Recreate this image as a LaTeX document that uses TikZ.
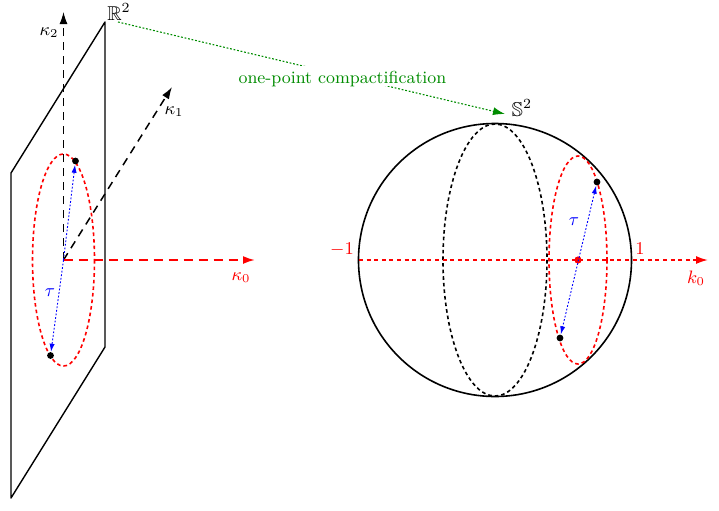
\documentclass[tikz,border=0pt]{standalone}
\usepackage{amssymb}
\usetikzlibrary{arrows.meta}
\definecolor{dgreen}{RGB}{0,140,0}
\tikzset{
  solidline/.style={black,line width=0.7pt},
  axisdash/.style={dash pattern=on 4pt off 3pt,-{Latex[length=6pt,width=4pt]}},
  fine/.style={dash pattern=on 0.9pt off 0.9pt,line width=0.45pt},
  reddash/.style={red,line width=0.8pt,dash pattern=on 1.8pt off 1.5pt},
  blackdash/.style={black,line width=0.8pt,dash pattern=on 1.8pt off 1.5pt},
  dotnode/.style={circle,fill=black,inner sep=0pt,minimum size=3.4pt},
  lab/.style={inner sep=0pt,font=\small}
}
\begin{document}
\begin{tikzpicture}[x=0.5pt,y=-0.5pt]
\useasboundingbox (0,0) rectangle (719,510);
\coordinate (pA) at (11,173);
\coordinate (pB) at (105,22);
\coordinate (pC) at (105,347);
\coordinate (pD) at (11,498);
\coordinate (O) at (63.5,260);
\coordinate (k2end) at (63.5,12);
\coordinate (k1end) at (172,87);
\coordinate (k0end) at (255,260);
\coordinate (ax1) at (359,260);
\coordinate (ax2) at (708,260);
\coordinate (S) at (495,260);
\coordinate (gs) at (118,22);
\coordinate (ge) at (505,114);
% plane
\draw[solidline,line join=round] (pA) -- (pB) -- (pC) -- (pD) -- cycle;
% left axes
\draw[black,line width=0.6pt,axisdash] (O) -- (k2end);
\draw[black,line width=0.75pt,axisdash] (O) -- (k1end);
\draw[red,line width=0.95pt,axisdash,dash pattern=on 4.7pt off 2.8pt] (O) -- (k0end);
% left circle
\draw[reddash] (63.5,260) ellipse [x radius=31,y radius=106];
\node[dotnode] (p1) at (75.5,161) {};
\node[dotnode] (p2) at (50.5,355.5) {};
\draw[blue,fine,-{Latex[length=4pt,width=2.6pt]}] (O) -- (p1);
\draw[blue,fine,-{Latex[length=4pt,width=2.6pt]}] (O) -- (p2);
% sphere
\draw[black,line width=0.8pt] (S) circle [radius=136.5];
\draw[blackdash] (S) ellipse [x radius=52,y radius=136];
\draw[reddash] (578,260) ellipse [x radius=29,y radius=104];
\draw[red,line width=0.85pt,dash pattern=on 2pt off 1.8pt,-{Latex[length=6pt,width=4pt]}] (ax1) -- (ax2);
\node[circle,fill=red,inner sep=0pt,minimum size=3.6pt] (c) at (578,260) {};
\node[dotnode] (q1) at (597,182) {};
\node[dotnode] (q2) at (560,338) {};
\draw[blue,fine,{Latex[length=4pt,width=2.6pt]}-{Latex[length=4pt,width=2.6pt]}] (q1) -- (q2);
% compactification
\draw[dgreen,fine,line width=0.55pt,-{Latex[length=6pt,width=4pt]}] (gs) -- (ge)
  node[pos=0.58,anchor=base,yshift=-4pt,fill=white,inner sep=0.5pt,text height=8pt,text depth=1pt,text=dgreen,font=\fontsize{8.7}{10}\selectfont] (cl) {one-point compactification};
% labels
\node[lab,font=\normalsize] (R) at (119,12) {$\mathbb{R}^2$};
\node[lab,font=\normalsize] (Sph) at (522,108) {$\mathbb{S}^2$};
\node[lab] (k2) at (49,33) {$\kappa_2$};
\node[lab] (k1) at (174,112) {$\kappa_1$};
\node[lab,text=red] (k0) at (241,278) {$\kappa_0$};
\node[lab,text=blue] (t1) at (50,293) {$\tau$};
\node[lab,text=blue] (t2) at (574,222) {$\tau$};
\node[lab,text=red] (m1) at (342,250) {$-1$};
\node[lab,text=red] (p1l) at (640,249) {$1$};
\node[lab,text=red] (k0r) at (696,278) {$k_0$};
\end{tikzpicture}
\end{document}
